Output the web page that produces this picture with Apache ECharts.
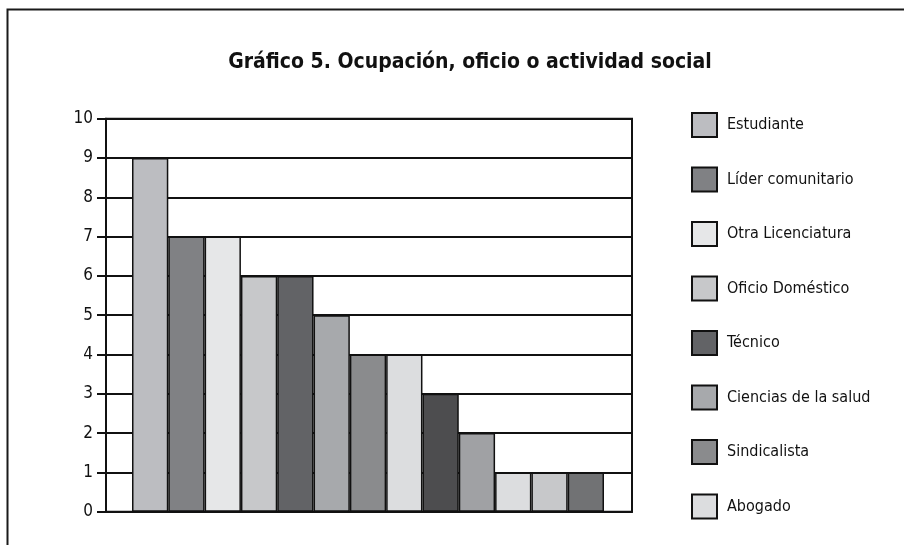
<!DOCTYPE html>
<html>
<head>
<meta charset="utf-8">
<script src="https://cdn.jsdelivr.net/npm/echarts@6/dist/echarts.min.js"></script>
<style>
  html, body { margin: 0; padding: 0; background: #fff; }
  #chart { width: 904px; height: 545px; }
</style>
</head>
<body>
<div id="chart"></div>
<script>
// datos del gráfico
const titulo = 'Gráfico 5. Ocupación, oficio o actividad social'
const ocupaciones = [
  'Estudiante', 'Líder comunitario', 'Otra Licenciatura', 'Oficio Doméstico',
  'Técnico', 'Ciencias de la salud', 'Sindicalista', 'Abogado',
  'Categoría 9', 'Categoría 10', 'Categoría 11', 'Categoría 12', 'Categoría 13'
]
const cantidades = [9, 7, 7, 6, 6, 5, 4, 4, 3, 2, 1, 1, 1]
const visiblesEnLeyenda = ocupaciones.slice(0, 8)
const yTicks = [0, 1, 2, 3, 4, 5, 6, 7, 8, 9, 10]

const grises = ['#bcbdc1', '#808184', '#e6e7e8', '#c7c8ca', '#626366', '#a7a9ac', '#8a8b8d',
  '#dcdddf', '#4d4d4f', '#a0a1a4', '#dcdddf', '#c7c8ca', '#717274']

const fuente = "'DejaVu Sans Condensed', 'Liberation Sans Narrow', sans-serif"

let chart = echarts.init(document.getElementById('chart'), null, {renderer: 'canvas'})

let series = ocupaciones.map((nombre, i) => ({
  name: nombre,
  type: 'bar',
  xAxisIndex: 1,
  yAxisIndex: 1,
  stack: 'total',
  barWidth: '100%',
  data: cantidades.map((v, j) => j === i ? v : '-'),
  itemStyle: {
    color: grises[i],
    borderColor: '#111',
    borderWidth: 1.5
  },
  z: 10
}))

let option = {
  animation: false,
  backgroundColor: '#fff',
  textStyle: {fontFamily: fuente},
  title: {
    text: titulo,
    left: 465,
    textAlign: 'center',
    top: 47,
    textStyle: {fontFamily: fuente, fontWeight: 'bold', fontSize: 21, color: '#111'}
  },
  graphic: [{
    type: 'rect',
    shape: {x: 7.5, y: 9.5, width: 1200, height: 1200},
    style: {fill: 'none', stroke: '#1a1a1a', lineWidth: 2},
    silent: true
  }],
  legend: {
    orient: 'vertical',
    left: 686,
    top: 107,
    data: visiblesEnLeyenda,
    icon: 'rect',
    itemWidth: 25,
    itemHeight: 24,
    itemGap: 28.5,
    textStyle: {fontFamily: fuente, fontSize: 16, color: '#111', padding: [0, 0, 0, 5]}
  },
  grid: [
    {left: 106, right: 272, top: 118.7, bottom: 33.3, show: true, borderColor: '#111', borderWidth: 2},
    {left: 132, right: 300, top: 118.7, bottom: 33.3}
  ],
  xAxis: [
    {type: 'value', gridIndex: 0, min: 0, max: 1, show: true,
      axisLine: {show: true, onZero: false, lineStyle: {color: '#111', width: 2}},
      axisTick: {show: false}, axisLabel: {show: false}, splitLine: {show: false}},
    {type: 'category', gridIndex: 1, data: ocupaciones, show: false, boundaryGap: true}
  ],
  yAxis: [
    {type: 'value', gridIndex: 0, min: yTicks[0], max: yTicks[yTicks.length - 1], interval: 1,
      axisLine: {show: true, lineStyle: {color: '#111', width: 2}},
      axisTick: {show: true, inside: false, length: 9, lineStyle: {color: '#111', width: 2}},
      axisLabel: {fontFamily: fuente, fontSize: 17, color: '#111', margin: 13},
      splitLine: {show: true, lineStyle: {color: '#111', width: 2}}},
    {type: 'value', gridIndex: 1, min: 0, max: 10, show: false, splitLine: {show: false}}
  ],
  series: series
}

chart.setOption(option)
</script>
</body>
</html>
